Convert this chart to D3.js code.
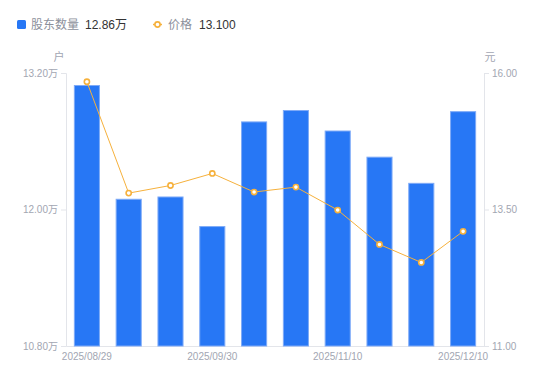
<!DOCTYPE html>
<head>
    <meta charset="utf-8">
    <script src="https://d3js.org/d3.v7.min.js"></script>
    <style>
        body { margin: 0; background: #fff; }
        text { font-family: "Liberation Sans", Arial, "Noto Sans CJK SC", sans-serif; }
    </style>
</head>

<div id="my_dataviz"></div>

<script>
// data
var dates = ["2025/08/29", "2025/09/10", "2025/09/19", "2025/09/30", "2025/10/20",
             "2025/10/31", "2025/11/10", "2025/11/20", "2025/11/28", "2025/12/10"];
var holders = [13.09, 12.09, 12.11, 11.85, 12.77, 12.87, 12.69, 12.46, 12.23, 12.86]; // 万户
var prices = [15.84, 13.80, 13.94, 14.16, 13.82, 13.91, 13.49, 12.86, 12.53, 13.10];  // 元
var leftTicks = [10.8, 12.0, 13.2];
var rightTicks = [11, 13.5, 16];
var shownDates = ["2025/08/29", "2025/09/30", "2025/11/10", "2025/12/10"];

var width = 550, height = 381;
var plot = {left: 66, right: 484, top: 73, bottom: 346};
var axisColor = "#e3e5ea", labelColor = "#a2a6b2";
var barColor = "#2777f5", lineColor = "#f6b13c";

var svg = d3.select("#my_dataviz")
    .append("svg")
    .attr("width", width)
    .attr("height", height);

// scales
var x = d3.scaleBand()
    .domain(dates)
    .range([plot.left, plot.right]);

var yLeft = d3.scaleLinear()
    .domain([10.8, 13.2])
    .range([plot.bottom, plot.top]);

var yRight = d3.scaleLinear()
    .domain([11, 16])
    .range([plot.bottom, plot.top]);

// axes
var leftAxis = svg.append("g")
    .attr("transform", "translate(" + plot.left + ",0)")
    .call(d3.axisLeft(yLeft).tickValues(leftTicks).tickSize(5).tickPadding(3)
        .tickFormat(function(d) { return d3.format(".2f")(d) + "万" }));

var rightAxis = svg.append("g")
    .attr("transform", "translate(" + plot.right + ",0)")
    .call(d3.axisRight(yRight).tickValues(rightTicks).tickSize(5).tickPadding(3)
        .tickFormat(d3.format(".2f")));

var bottomAxis = svg.append("g")
    .attr("transform", "translate(0," + plot.bottom + ")")
    .call(d3.axisBottom(x).tickSize(0).tickPadding(7)
        .tickFormat(function(d) { return shownDates.indexOf(d) >= 0 ? d : "" }));

[leftAxis, rightAxis, bottomAxis].forEach(function(g) {
    g.selectAll("path, line").attr("stroke", axisColor);
    g.selectAll("text").attr("fill", labelColor).style("font-size", "10px");
});

// unit names
svg.append("text").attr("x", 59).attr("y", 61).attr("text-anchor", "middle")
    .attr("fill", labelColor).style("font-size", "11px").text("户");
svg.append("text").attr("x", 490).attr("y", 61).attr("text-anchor", "middle")
    .attr("fill", labelColor).style("font-size", "11px").text("元");

// bars
var barWidth = x.bandwidth() * 0.6;
svg.selectAll("bars")
    .data(holders)
    .enter()
    .append("rect")
    .attr("x", function(d, i) { return x(dates[i]) + (x.bandwidth() - barWidth) / 2 })
    .attr("y", function(d) { return yLeft(d) })
    .attr("width", barWidth)
    .attr("height", function(d) { return yLeft(10.8) - yLeft(d) })
    .style("fill", barColor)
    .attr("stroke", "#7eaaf7")
    .attr("stroke-width", 1);

// price line
var line = d3.line()
    .x(function(d, i) { return x(dates[i]) + x.bandwidth() / 2 })
    .y(function(d) { return yRight(d) });

svg.append("path")
    .datum(prices)
    .attr("d", line)
    .attr("fill", "none")
    .attr("stroke", lineColor)
    .attr("stroke-width", 1);

svg.selectAll("dots")
    .data(prices)
    .enter()
    .append("circle")
    .attr("cx", function(d, i) { return x(dates[i]) + x.bandwidth() / 2 })
    .attr("cy", function(d) { return yRight(d) })
    .attr("r", 2.6)
    .attr("fill", "#fff")
    .attr("stroke", lineColor)
    .attr("stroke-width", 1.6);

// legend
var legend = svg.append("g");
legend.append("rect").attr("x", 17).attr("y", 20).attr("width", 9).attr("height", 9)
    .attr("rx", 1.5).style("fill", barColor);
legend.append("text").attr("x", 31).attr("y", 28.5).attr("fill", "#8c909b")
    .style("font-size", "12px").text("股东数量");
legend.append("text").attr("x", 85).attr("y", 28.5).attr("fill", "#333")
    .style("font-size", "12px").text(d3.format(".2f")(holders[holders.length - 1]) + "万");

legend.append("line").attr("x1", 153).attr("x2", 162).attr("y1", 24.5).attr("y2", 24.5)
    .attr("stroke", lineColor).attr("stroke-width", 1.5);
legend.append("circle").attr("cx", 157.5).attr("cy", 24.5).attr("r", 2.6)
    .attr("fill", "#fff").attr("stroke", lineColor).attr("stroke-width", 1.6);
legend.append("text").attr("x", 168).attr("y", 28.5).attr("fill", "#8c909b")
    .style("font-size", "12px").text("价格");
legend.append("text").attr("x", 199).attr("y", 28.5).attr("fill", "#333")
    .style("font-size", "12px").text(d3.format(".3f")(prices[prices.length - 1]));
</script>
